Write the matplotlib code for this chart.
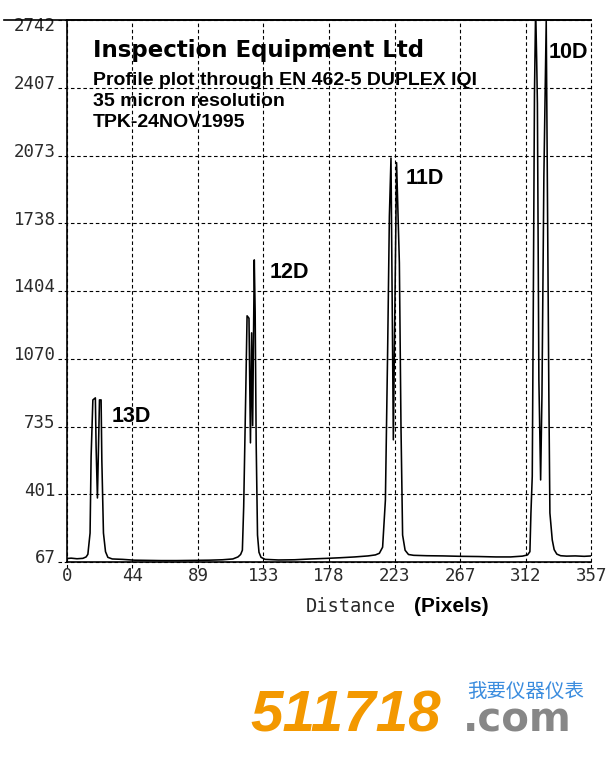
import matplotlib
matplotlib.use("Agg")
import matplotlib.pyplot as plt
from matplotlib.transforms import ScaledTranslation

# ---- profile data (distance in pixels, grey-level intensity) ----
distance = [0, 3, 7, 11, 13.2, 14.4, 15.9, 16.6, 17.8, 19.5, 20.0, 20.9, 22.3, 23.4, 23.9,
            25.0, 26.4, 28.0, 31, 38, 46, 55, 64, 75, 86, 97, 106, 113, 116.5, 118.3,
            119.5, 120.4, 121.8, 122.7, 124.0, 125.0, 125.8, 126.5, 127.6, 128.2,
            128.9, 129.8, 130.8, 132.2, 135, 144, 155, 166, 177, 186, 196, 205, 210, 212.7,
            214.9, 216.8, 218.3, 219.5, 220.6, 222.2, 224.4, 226.3, 227.4, 228.5,
            230.2, 232.5, 236, 245, 256, 268, 280, 292, 302, 310, 313.5,
            315.1, 315.8, 316.7, 317.4, 318.2, 319.0, 319.7, 320.2, 321.2, 322.4,
            323.3, 324.6, 326.2, 326.9, 328.0, 328.7, 330.3, 331.6, 333.4, 336.0,
            340, 346, 352, 357]
intensity = [84, 86, 83, 85, 92, 105, 210, 586, 867, 877, 635, 383, 867, 867, 570,
             210, 118, 90, 82, 80, 76, 75, 74, 74, 75, 76, 78, 82, 92, 104,
             125, 340, 901, 1282, 1270, 655, 1198, 740, 1558, 1300,
             650, 200, 115, 90, 80, 77, 78, 82, 85, 88, 92, 97, 102, 110,
             140, 373, 1099, 1772, 2061, 670, 2038, 1544, 734, 200,
             125, 104, 100, 98, 97, 95, 94, 92, 92, 96, 102,
             118, 309, 490, 1328, 2374, 2800, 2546, 2330, 966, 472,
             890, 1968, 2735, 2018, 883, 309, 176, 128, 106, 98,
             96, 97, 95, 97]

x_ticks = [0, 44.625, 89.25, 133.875, 178.5, 223.125, 267.75, 312.375, 357]
x_tick_labels = ["0", "44", "89", "133", "178", "223", "267", "312", "357"]
y_ticks = [67, 401.375, 735.75, 1070.125, 1404.5, 1738.875, 2073.25, 2407.625, 2742]
y_tick_labels = ["67", "401", "735", "1070", "1404", "1738", "2073", "2407", "2742"]

peak_names = ["13D", "12D", "11D", "10D"]
peak_label_x = [30.7, 138.0, 230.8, 328.0]
peak_label_y = [783, 1494, 1959, 2583]

title_lines = ["Inspection Equipment Ltd",
               "Profile plot through EN 462-5 DUPLEX IQI",
               "35 micron resolution",
               "TPK-24NOV1995"]

W, H = 614, 757
fig = plt.figure(figsize=(W / 100, H / 100), dpi=100)
fig.patch.set_facecolor("white")
ax = fig.add_axes([66.7 / W, 1 - 562 / H, 524.8 / W, 542 / H])
ax.set_facecolor("white")


def fpos(px, py):
    return px / W, 1 - py / H


# dashed grid, running a little past the axes like tick marks
dash = (0, (3.2, 2.4))
for yv in y_ticks:
    ax.axhline(yv, xmin=-0.016, xmax=1, color="black", lw=0.8, ls=dash,
               clip_on=False, zorder=1)
for xv in x_ticks:
    ax.axvline(xv, ymin=-0.011, ymax=1, color="black", lw=0.8, ls=dash,
               clip_on=False, zorder=1)

ax.plot(distance, intensity, color="black", lw=1.15, zorder=3)

ax.set_xlim(0, 357)
ax.set_ylim(67, 2742)

for side in ("left", "bottom", "top"):
    ax.spines[side].set_linewidth(1.2)
    ax.spines[side].set_color("black")
    ax.spines[side].set_zorder(4)
ax.spines["right"].set_visible(False)
# top border continues left over the value labels
ax.plot([-0.119, 1.0], [1, 1], transform=ax.transAxes, color="black",
        lw=1.2, clip_on=False, zorder=5)

mono = "DejaVu Sans Mono"
ax.set_xticks(x_ticks, x_tick_labels)
ax.set_yticks(y_ticks, y_tick_labels)
ax.tick_params(axis="both", length=0, labelsize=12.5, labelcolor="#2a2a2a")
ax.tick_params(axis="x", pad=3.6)
ax.tick_params(axis="y", pad=8)
for lab in ax.get_xticklabels() + ax.get_yticklabels():
    lab.set_fontfamily(mono)
for lab in ax.get_yticklabels():
    dy = -3 / 72 if lab.get_text() == "2742" else 4 / 72
    lab.set_transform(lab.get_transform() + ScaledTranslation(0, dy, fig.dpi_scale_trans))

# axis title: mono word plus bold unit
fig.text(*fpos(306, 606), "Distance", fontfamily=mono, fontsize=13.5,
         color="#2a2a2a", ha="left", va="center")
fig.text(*fpos(414, 606), "(Pixels)", fontfamily="Liberation Sans",
         fontweight="bold", fontsize=15, color="black", ha="left", va="center")

# header block
fig.text(*fpos(93, 56.7), title_lines[0], fontfamily="DejaVu Sans",
         fontweight="bold", fontsize=16.5, ha="left", va="baseline")
for txt, base in zip(title_lines[1:], [85, 105.5, 126.7]):
    fig.text(*fpos(93, base), txt, fontfamily="Liberation Sans",
             fontweight="bold", fontsize=14, ha="left", va="baseline")

# peak annotations
for name, xv, yv in zip(peak_names, peak_label_x, peak_label_y):
    ax.text(xv, yv, name, fontfamily="Liberation Sans", fontweight="bold",
            fontsize=15.5, ha="left", va="center", zorder=6)

# site mark
fig.text(*fpos(250, 731.7), "511718", fontfamily="Liberation Sans",
         fontweight="bold", fontstyle="italic", fontsize=42, color="#F39800",
         ha="left", va="baseline")
fig.text(*fpos(463, 731.7), ".com", fontfamily="DejaVu Sans",
         fontweight="bold", fontsize=29, color="#878787",
         ha="left", va="baseline")
fig.text(*fpos(467, 698), "我要仪器仪表", fontfamily=["Noto Sans CJK SC", "DejaVu Sans"],
         fontsize=14, color="#3A8CDE", ha="left", va="baseline")

fig.savefig("out.png", dpi=100, facecolor="white")
